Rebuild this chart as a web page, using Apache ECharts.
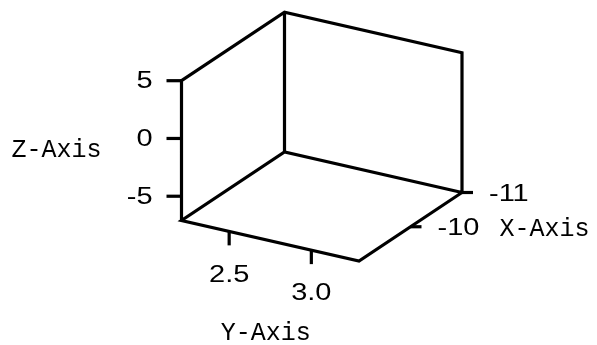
<!DOCTYPE html>
<html>
<head>
<meta charset="utf-8">
<script src="https://cdn.jsdelivr.net/npm/echarts@6/dist/echarts.min.js"></script>
<style>
  html, body { margin: 0; padding: 0; background: #ffffff; }
  #chart { width: 597px; height: 345px; }
</style>
</head>
<body>
<div id="chart"></div>
<script>
// Axis limits of the 3-D box (x: near edge first, far edge second)
const xLimits = [-9, -11];
const yLimits = [2.21, 3.29];
const zLimits = [-7.1, 5];

// Tick values and their labels
const xTicks = [-11, -10];
const xTickLabels = ['-11', '-10'];
const yTicks = [2.5, 3.0];
const yTickLabels = ['2.5', '3.0'];
const zTicks = [-5, 0, 5];
const zTickLabels = ['-5', '0', '5'];

// Axis titles
const xTitle = 'X-Axis';
const yTitle = 'Y-Axis';
const zTitle = 'Z-Axis';

// Orthographic view: where a full step along x, y and z lands inside the
// grid's unit square (u to the right, v upward)
const view = {
  origin: [0, 0.1628],
  ex: [0.3672, 0.2753],
  ey: [0.6328, -0.1628],
  ez: [0, 0.5619]
};

const INK = '#000000';
const LINE_W = 3.2;
const NUM_FONT = '"Liberation Sans", Arial, sans-serif';
const NUM_SIZE = 23;
const NUM_STRETCH = 1.26;
const TITLE_FONT = '"Liberation Mono", "Courier New", monospace';
const TITLE_SIZE = 25;

function frac(v, lim) { return (v - lim[0]) / (lim[1] - lim[0]); }

// data-space (x, y, z) -> grid-plane (u, v)
function project(x, y, z) {
  const a = frac(x, xLimits), b = frac(y, yLimits), c = frac(z, zLimits);
  return [
    view.origin[0] + a * view.ex[0] + b * view.ey[0] + c * view.ez[0],
    view.origin[1] + a * view.ex[1] + b * view.ey[1] + c * view.ez[1]
  ];
}

const [X0, X1] = xLimits, [Y0, Y1] = yLimits, [Z0, Z1] = zLimits;

// Visible box edges as corner chains
const boxChains = [
  [[X0, Y0, Z0], [X0, Y0, Z1], [X1, Y0, Z1], [X1, Y1, Z1], [X1, Y1, Z0],
   [X0, Y1, Z0], [X0, Y0, Z0], [X1, Y0, Z0], [X1, Y1, Z0]],
  [[X1, Y0, Z0], [X1, Y0, Z1]]
];

function numText(x, y, text, align) {
  return {
    type: 'text', x: x, y: y, scaleX: NUM_STRETCH, originX: 0, originY: 0,
    style: {
      text: text, x: 0, y: 0, fill: INK,
      fontSize: NUM_SIZE, fontFamily: NUM_FONT,
      align: align, textAlign: align,
      verticalAlign: 'middle', textVerticalAlign: 'middle'
    }
  };
}
function titleText(x, y, text) {
  return {
    type: 'text', x: x, y: y,
    style: {
      text: text, x: 0, y: 0, fill: INK,
      fontSize: TITLE_SIZE, fontFamily: TITLE_FONT,
      align: 'center', textAlign: 'center',
      verticalAlign: 'middle', textVerticalAlign: 'middle'
    }
  };
}
function seg(p, q) {
  return {
    type: 'line',
    shape: { x1: p[0], y1: p[1], x2: q[0], y2: q[1] },
    style: { stroke: INK, lineWidth: LINE_W, lineCap: 'butt' }
  };
}

function renderBox(params, api) {
  const children = boxChains.map(chain => ({
    type: 'polyline',
    shape: { points: chain.map(p => api.coord(project(p[0], p[1], p[2]))) },
    style: { stroke: INK, lineWidth: LINE_W, fill: null, lineJoin: 'miter', lineCap: 'butt' }
  }));
  return { type: 'group', children: children };
}

// z ticks sit on the near-left vertical edge
function renderZ(params, api) {
  const i = params.dataIndex;
  const p = api.coord(project(X0, Y0, zTicks[i]));
  return {
    type: 'group',
    children: [
      seg([p[0], p[1]], [p[0] - 15, p[1]]),
      numText(p[0] - 29, p[1] + 1, zTickLabels[i], 'right')
    ]
  };
}
// y ticks sit on the near-bottom edge
function renderY(params, api) {
  const i = params.dataIndex;
  const p = api.coord(project(X0, yTicks[i], Z0));
  return {
    type: 'group',
    children: [
      seg([p[0], p[1]], [p[0], p[1] + 14]),
      numText(p[0], p[1] + 44, yTickLabels[i], 'center')
    ]
  };
}
// x ticks sit on the right-bottom receding edge
function renderX(params, api) {
  const i = params.dataIndex;
  const p = api.coord(project(xTicks[i], Y1, Z0));
  return {
    type: 'group',
    children: [
      seg([p[0], p[1]], [p[0] + 11, p[1]]),
      numText(p[0] + 27, p[1] + 2, xTickLabels[i], 'left')
    ]
  };
}
function renderTitles(params, api) {
  const zm = api.coord(project(X0, Y0, (Z0 + Z1) / 2));
  const ym = api.coord(project(X0, (Y0 + Y1) / 2, Z0));
  const xm = api.coord(project((X0 + X1) / 2, Y1, Z0));
  return {
    type: 'group',
    children: [
      titleText(zm[0] - 125, zm[1], zTitle),
      titleText(ym[0] - 4.5, ym[1] + 92.5, yTitle),
      titleText(xm[0] + 134, xm[1] + 2.5, xTitle)
    ]
  };
}

const chart = echarts.init(document.getElementById('chart'), null, { renderer: 'canvas' });
chart.setOption({
  backgroundColor: '#ffffff',
  animation: false,
  grid: { left: 181.5, top: 12.2, width: 280.5, height: 248.8, show: false },
  xAxis: { type: 'value', min: 0, max: 1, show: false },
  yAxis: { type: 'value', min: 0, max: 1, show: false },
  series: [
    { type: 'custom', name: 'box', renderItem: renderBox, data: [0], silent: true, clip: false },
    { type: 'custom', name: 'z', renderItem: renderZ, data: zTicks, silent: true, clip: false },
    { type: 'custom', name: 'y', renderItem: renderY, data: yTicks, silent: true, clip: false },
    { type: 'custom', name: 'x', renderItem: renderX, data: xTicks, silent: true, clip: false },
    { type: 'custom', name: 'titles', renderItem: renderTitles, data: [0], silent: true, clip: false }
  ]
});
</script>
</body>
</html>
